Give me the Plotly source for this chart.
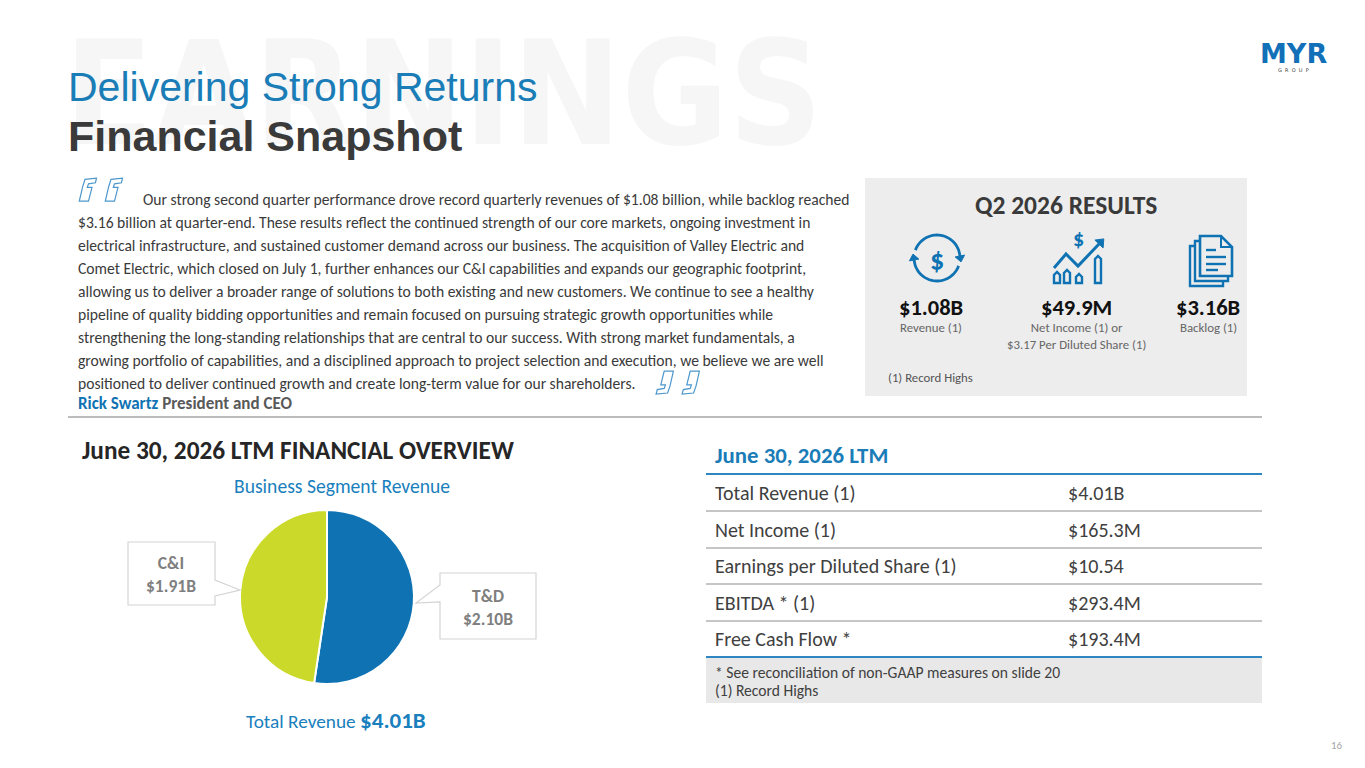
"""Financial snapshot slide"""
import numpy as np
import plotly.graph_objs as go

# ---- data ----
segments = ['T&D', 'C&I']
segment_revenue = [2.10, 1.91]          # $B
total_revenue = 4.01

q2_values = ['$1.08B', '$49.9M', '$3.16B']
q2_labels = ['Revenue (1)', 'Net Income (1) or<br>$3.17 Per Diluted Share (1)', 'Backlog (1)']

table_labels = ['Total Revenue (1)', 'Net Income (1)', 'Earnings per Diluted Share (1)',
                'EBITDA * (1)', 'Free Cash Flow *']
table_values = ['$4.01B', '$165.3M', '$10.54', '$293.4M', '$193.4M']

quote_lines = [
    'Our strong second quarter performance drove record quarterly revenues of $1.08 billion, while backlog reached',
    '$3.16 billion at quarter-end. These results reflect the continued strength of our core markets, ongoing investment in',
    'electrical infrastructure, and sustained customer demand across our business. The acquisition of Valley Electric and',
    'Comet Electric, which closed on July 1, further enhances our C&I capabilities and expands our geographic footprint,',
    'allowing us to deliver a broader range of solutions to both existing and new customers. We continue to see a healthy',
    'pipeline of quality bidding opportunities and remain focused on pursuing strategic growth opportunities while',
    'strengthening the long-standing relationships that are central to our success. With strong market fundamentals, a',
    'growing portfolio of capabilities, and a disciplined approach to project selection and execution, we believe we are well',
    'positioned to deliver continued growth and create long-term value for our shareholders.',
]

# ---- styles ----
BLUE = '#0f73b3'
GREEN = '#cbd92b'
DARK = '#3a3a3a'
GREY = '#7f7f7f'
BODY = 'Calibri, Carlito, Lato, sans-serif'
HEAD = 'Arial Narrow, Liberation Sans, sans-serif'
OFF = 8   # page body margin in the browser

shapes = []
annotations = []


def text(x, y, s, size, color=DARK, family=BODY, xanchor='left', yanchor='middle', align='left'):
    annotations.append(dict(x=x, y=y, xref='x', yref='y', text=s, showarrow=False,
                            xanchor=xanchor, yanchor=yanchor, align=align,
                            font=dict(size=size, color=color, family=family)))


def rect(x0, y0, x1, y1, fill=None, line=None, width=1):
    shapes.append(dict(type='rect', xref='x', yref='y', x0=x0, y0=y0, x1=x1, y1=y1, layer='below',
                       fillcolor=fill or 'rgba(0,0,0,0)',
                       line=dict(color=line or 'rgba(0,0,0,0)', width=width)))


def hline(x0, x1, y, color, width=1):
    shapes.append(dict(type='line', xref='x', yref='y', x0=x0, x1=x1, y0=y, y1=y,
                       line=dict(color=color, width=width)))


def path(d, line=BLUE, width=2, fill=None):
    shapes.append(dict(type='path', xref='x', yref='y', path=d,
                       fillcolor=fill or 'rgba(0,0,0,0)',
                       line=dict(color=line or 'rgba(0,0,0,0)', width=width)))


def poly(pts, close=False):
    d = 'M' + ' L'.join(f'{x:.1f},{y:.1f}' for x, y in pts)
    return d + (' Z' if close else '')


# ---- watermark + titles ----
text(62, 93, '<b>EARNINGS</b>', 145, color='#f6f6f6', family='DejaVu Sans Condensed, DejaVu Sans')
text(66, 87, 'Delivering Strong Returns', 41, color='#1a7db7', family=HEAD)
text(66, 136, '<b>Financial Snapshot</b>', 43, color=DARK, family=HEAD)

# logo
text(1293, 53, '<b>MYR</b>', 27, color='#1170b8', family='DejaVu Sans, sans-serif', xanchor='center')
text(1293, 70, 'G  R  O  U  P', 5, color=DARK, family='DejaVu Sans', xanchor='center')

# ---- quote ----
for i, line in enumerate(quote_lines):
    text(141 if i == 0 else 76, 199 + 23 * i, line, 15.6, color=DARK)


def quote_glyph(x, y, flip=False, k=1.15):
    pts = [(2, 21), (5, 8), (7, 2), (17, 1), (16, 5), (10, 6), (9, 9), (13, 9), (10, 21)]
    if flip:
        pts = [(18 - px, 22 - py) for px, py in pts]
    return poly([(x + k * px, y + k * py) for px, py in pts], close=True)


for dx in (0, 26):
    path(quote_glyph(77 + dx, 177), line='#4d97cc', width=1.2)
    path(quote_glyph(655 + dx, 370, flip=True), line='#4d97cc', width=1.2)

text(76, 403, '<b><span style="color:%s">Rick Swartz</span> President and CEO</b>' % BLUE, 17, color='#595959')
hline(68, 1262, 417, '#a6a6a6', 1.3)

# ---- Q2 box ----
rect(865, 178, 1247, 396, fill='#ededed')
text(1066, 205, '<b>Q2 2026 RESULTS</b>', 25.5, color=DARK, xanchor='center')
q2_x = [931, 1076, 1208]
for cx, val, lab in zip(q2_x, q2_values, q2_labels):
    text(cx, 307, '<b>%s</b>' % val, 22.5, color='#111111', xanchor='center')
    text(cx, 318, lab, 12.8, color='#666666', xanchor='center', yanchor='top', align='center')
text(886, 377, '(1) Record Highs', 12.8, color='#555555')


def arc(cx, cy, r, a0, a1, n=30):
    t = np.radians(np.linspace(a0, a1, n))
    return list(zip(cx + r * np.cos(t), cy - r * np.sin(t)))


def arrowhead(p_end, p_prev, size=6):
    v = np.array(p_end) - np.array(p_prev)
    v = v / np.linalg.norm(v)
    nrm = np.array([-v[1], v[0]])
    tip = np.array(p_end) + v * size
    b1 = np.array(p_end) + nrm * size * 0.8
    b2 = np.array(p_end) - nrm * size * 0.8
    return poly([tip, b1, b2], close=True)


# revenue icon
a1 = arc(937, 258, 23, 160, 5)
a2 = arc(937, 258, 23, -20, -175)
for a in (a1, a2):
    path(poly(a), width=2.8)
    path(arrowhead(a[-1], a[-3]), line=BLUE, width=1, fill=BLUE)
text(937, 259, '<b>$</b>', 28, color=BLUE, xanchor='center')

# net income icon
text(1078, 238, '<b>$</b>', 22, color=BLUE, xanchor='center')
zig = [(1054, 268), (1066, 254), (1078, 266), (1099, 244)]
path(poly(zig), width=3)
path(arrowhead(zig[-1], zig[-2], 7), line=BLUE, width=1, fill=BLUE)
for bx, top in [(1057, 272), (1067, 270), (1079, 274), (1098, 256)]:
    path(poly([(bx - 3, 283), (bx - 3, top + 3), (bx, top), (bx + 3, top + 3), (bx + 3, 283)], close=True),
         width=2.4)

# backlog icon
for ox, oy in [(0, 10), (5, 5)]:
    path(poly([(1190 + ox, 236 + oy), (1213 + ox, 236 + oy), (1223 + ox, 246 + oy),
               (1223 + ox, 276 + oy), (1190 + ox, 276 + oy)], close=True), width=2.4, fill='#ededed')
path(poly([(1200, 236), (1221, 236), (1232, 247), (1232, 276), (1200, 276)], close=True),
     width=2.6, fill='#ededed')
path(poly([(1221, 236), (1221, 247), (1232, 247)]), width=2)
for ly, x1 in [(250, 1216), (257, 1226), (264, 1226), (270, 1218)]:
    hline(1206, x1, ly, BLUE, 2.4)

# ---- LTM overview (pie) ----
text(80, 450, '<b>June 30, 2026 LTM FINANCIAL OVERVIEW</b>', 25.3, color='#262626')
text(342, 486, 'Business Segment Revenue', 19.6, color='#1a80bd', xanchor='center')
text(336, 720, 'Total Revenue <b><span style="font-size:23px">$%.2fB</span></b>' % total_revenue, 19.3,
     color='#1a80bd', xanchor='center')

# callouts
path('M128,542 L215,542 L215,580 L240,590 L215,596 L215,605 L128,605 Z', line='#d4d4d4', width=1.2, fill='white')
path('M440,573 L536,573 L536,639 L440,639 L440,602 L416,603 L440,585 Z', line='#d4d4d4', width=1.2, fill='white')
callout_pos = {'T&D': (488, 607), 'C&I': (171, 574)}
for seg, val in zip(segments, segment_revenue):
    cx, cy = callout_pos[seg]
    text(cx, cy, '<b>%s<br>$%.2fB</b>' % (seg, val), 17.5, color=GREY, xanchor='center', align='center')

pie = go.Pie(labels=segments, values=segment_revenue, sort=False, direction='clockwise', rotation=0,
             marker=dict(colors=[BLUE, GREEN], line=dict(color='white', width=2)),
             textinfo='none', hoverinfo='label+value', showlegend=False,
             domain=dict(x=[(240 - OFF) / 1365, (414 - OFF) / 1365],
                         y=[1 - (684 - OFF) / 768, 1 - (510 - OFF) / 768]))

# ---- LTM table ----
text(713, 455, '<b>June 30, 2026 LTM</b>', 22.8, color='#1a7db7')
hline(706, 1262, 474, '#2f86c1', 2)
row_y = [493, 530, 566, 603, 639]
for i, (lab, val) in enumerate(zip(table_labels, table_values)):
    text(713, row_y[i], lab, 20, color='#404040')
    text(1066, row_y[i], val, 20, color='#404040')
    if i < len(table_labels) - 1:
        hline(706, 1262, row_y[i] + 18, '#8c8c8c', 1)
rect(706, 657, 1262, 703, fill='#e8e8e8')
hline(706, 1262, 657, '#2f86c1', 2)
text(713, 672, '* See reconciliation of non-GAAP measures on slide 20', 15.6, color='#404040')
text(713, 690, '(1) Record Highs', 15.6, color='#404040')

text(1337, 745, '16', 11, color='#a6a6a6', xanchor='center')

# ---- figure ----
scatter = go.Scatter(x=[OFF, 1365], y=[OFF, 768], mode='markers', marker=dict(opacity=0), hoverinfo='skip',
                     showlegend=False)
layout = go.Layout(width=1365, height=768, margin=dict(l=0, r=0, t=0, b=0),
                   paper_bgcolor='white', plot_bgcolor='white',
                   xaxis=dict(range=[OFF, 1365 + OFF], visible=False, domain=[0, 1], fixedrange=True),
                   yaxis=dict(range=[768 + OFF, OFF], visible=False, domain=[0, 1], fixedrange=True),
                   shapes=shapes, annotations=annotations)
fig = go.Figure(data=[scatter, pie], layout=layout)
fig.write_html('out.html', config={'displayModeBar': False})
